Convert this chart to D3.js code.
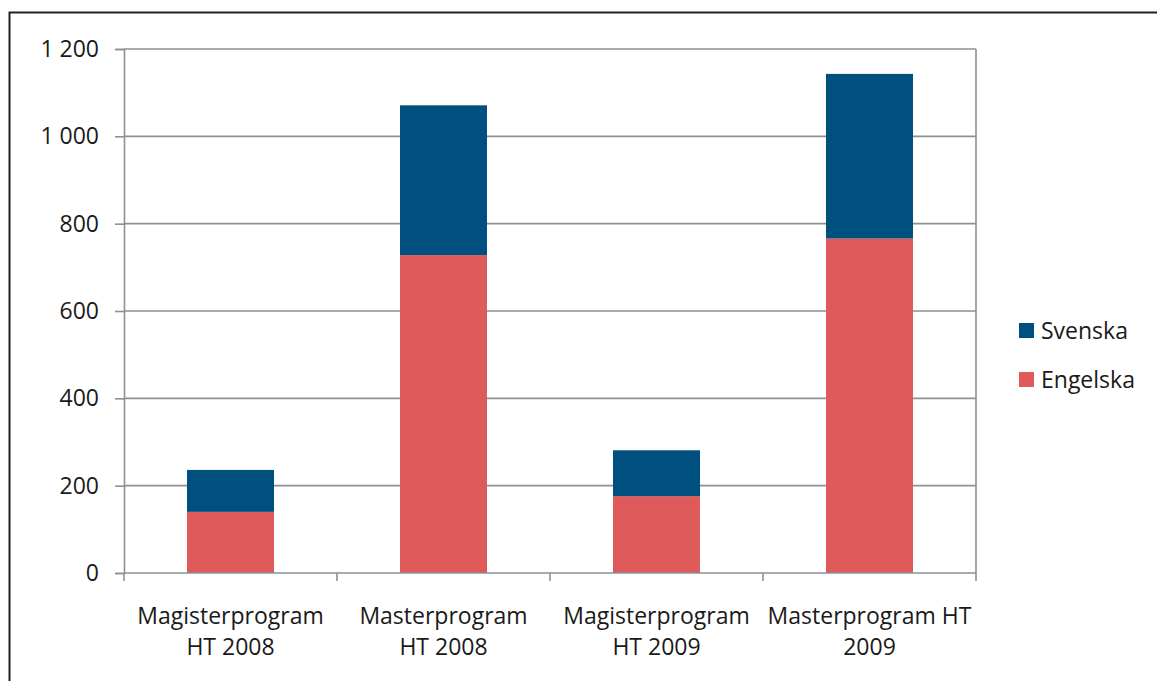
<!DOCTYPE html>
<html><head><meta charset="utf-8">
<script src="https://cdn.jsdelivr.net/npm/d3@7"></script>
<style>body{margin:0;background:#fff}svg{display:block}text{font-family:"Open Sans",sans-serif;fill:#1a1a1a}</style>
</head><body><svg id="c" width="1157" height="681"></svg>
<script>
const categories = [["Magisterprogram","HT 2008"],["Masterprogram","HT 2008"],["Magisterprogram","HT 2009"],["Masterprogram HT","2009"]];
const series = ["Engelska","Svenska"];
const engelska = [140, 728, 176, 766];
const svenska = [96, 343, 105, 377];
const yTicks = [0,200,400,600,800,1000,1200];
const yTickLabels = ["0","200","400","600","800","1 000","1 200"];
const colors = {Engelska:"#df5a5b", Svenska:"#00507f"};

const svg = d3.select("#c");
const gridC = "#8a9294";
const fs = "23px";
svg.append("path").attr("d","M9.5,681 V12.5 H1157").attr("fill","none").attr("stroke","#222").attr("stroke-width",2);

const x = d3.scaleBand().domain(d3.range(categories.length)).range([124,976]).paddingInner(0).paddingOuter(0);
const y = d3.scaleLinear().domain([0,1200]).range([573,49]);

svg.append("g").selectAll("line").data(yTicks.slice(1)).join("line")
  .attr("x1",124).attr("x2",976).attr("y1",d=>y(d)).attr("y2",d=>y(d))
  .attr("stroke",gridC).attr("stroke-width",1.6);
svg.append("line").attr("x1",976).attr("x2",976).attr("y1",y(1200)).attr("y2",y(0)).attr("stroke",gridC).attr("stroke-width",1.6);

const data = categories.map((c,i)=>({i, Engelska:engelska[i], Svenska:svenska[i]}));
const stack = d3.stack().keys(series)(data);
const bw = 87;
svg.append("g").selectAll("g").data(stack).join("g").attr("fill",d=>colors[d.key])
  .selectAll("rect").data(d=>d).join("rect")
  .attr("x",d=>x(d.data.i)+x.bandwidth()/2-bw/2).attr("width",bw)
  .attr("y",d=>y(d[1])).attr("height",d=>y(d[0])-y(d[1]));

const yAxis = d3.axisLeft(y).tickValues(yTicks).tickFormat((d,i)=>yTickLabels[i]).tickSize(9).tickPadding(16);
const ga = svg.append("g").attr("transform","translate(124,0)").call(yAxis);
ga.select(".domain").attr("stroke",gridC).attr("stroke-width",1.6);
ga.selectAll(".tick line").attr("stroke",gridC).attr("stroke-width",1.6);
ga.selectAll(".tick text").style("font-size",fs).style("font-family","'Open Sans',sans-serif").attr("fill","#1a1a1a");

const xb = svg.append("g");
xb.append("line").attr("x1",124).attr("x2",976).attr("y1",573).attr("y2",573).attr("stroke",gridC).attr("stroke-width",1.6);
const edges = d3.range(categories.length+1).map(i=> i<categories.length ? x(i) : x(i-1)+x.bandwidth());
xb.selectAll("line.t").data(edges).join("line").attr("class","t")
  .attr("x1",d=>d).attr("x2",d=>d).attr("y1",573).attr("y2",581).attr("stroke",gridC).attr("stroke-width",1.6);
const lab = xb.selectAll("text").data(categories).join("text")
  .attr("text-anchor","middle").style("font-size",fs)
  .attr("transform",(d,i)=>`translate(${x(i)+x.bandwidth()/2},624)`);
lab.selectAll("tspan").data(d=>d).join("tspan").attr("x",0).attr("dy",(d,j)=>j?31:0).text(d=>d);

const leg = [{k:"Svenska",cy:331},{k:"Engelska",cy:380}];
const lg = svg.append("g");
lg.selectAll("rect").data(leg).join("rect").attr("x",1019).attr("y",d=>d.cy-8).attr("width",15).attr("height",15).attr("fill",d=>colors[d.k]);
lg.selectAll("text").data(leg).join("text").attr("x",1041).attr("y",d=>d.cy+8).style("font-size",fs).text(d=>d.k);
</script></body></html>
